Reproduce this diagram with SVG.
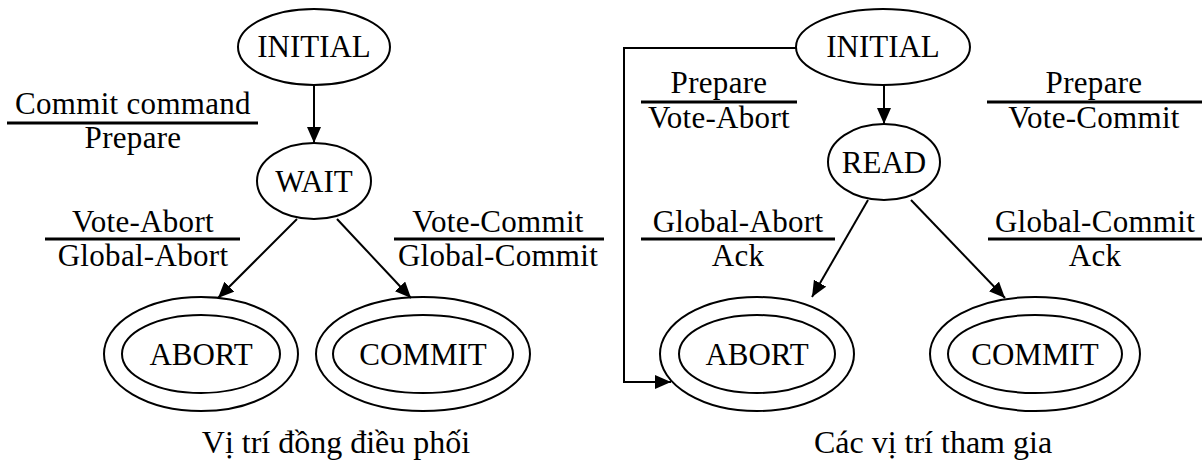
<svg xmlns="http://www.w3.org/2000/svg" width="1202" height="467" viewBox="0 0 1202 467">
  <style>
    text { font-family: "Liberation Serif", "Times New Roman", serif; font-size: 31px; fill: #000; text-anchor: middle; }
    .lbl { letter-spacing: 0.3px; }
    .cap { font-size: 32px; }
    .shape { fill: none; stroke: #000; stroke-width: 2; }
    .edge { fill: none; stroke: #000; stroke-width: 2; }
    .bar { stroke: #000; stroke-width: 3; }
  </style>
  <defs>
    <marker id="arrow" viewBox="0 0 16 14" refX="16" refY="7" markerWidth="16" markerHeight="14" markerUnits="userSpaceOnUse" orient="auto">
      <path d="M0,0 L16,7 L0,14 Z" fill="#000"/>
    </marker>
  </defs>
  <rect width="1202" height="467" fill="#fff"/>

  <!-- Coordinator -->
  <g id="c-initial">
    <ellipse class="shape" cx="314" cy="47" rx="76" ry="38"/>
    <text x="314" y="57">INITIAL</text>
  </g>
  <g id="c-wait">
    <ellipse class="shape" cx="314" cy="181" rx="57" ry="38"/>
    <text x="314" y="192">WAIT</text>
  </g>
  <g id="c-abort">
    <ellipse class="shape" cx="201" cy="354" rx="97" ry="57"/>
    <ellipse class="shape" cx="201" cy="354" rx="79" ry="39"/>
    <text x="201" y="365">ABORT</text>
  </g>
  <g id="c-commit">
    <ellipse class="shape" cx="423" cy="354" rx="107" ry="57"/>
    <ellipse class="shape" cx="423" cy="354" rx="90" ry="39"/>
    <text x="423" y="365">COMMIT</text>
  </g>

  <!-- Participants -->
  <g id="p-initial">
    <ellipse class="shape" cx="883" cy="47" rx="87" ry="38"/>
    <text x="883" y="57">INITIAL</text>
  </g>
  <g id="p-read">
    <ellipse class="shape" cx="884" cy="162" rx="56" ry="38"/>
    <text x="884" y="173">READ</text>
  </g>
  <g id="p-abort">
    <ellipse class="shape" cx="757" cy="354" rx="97" ry="57"/>
    <ellipse class="shape" cx="757" cy="354" rx="78" ry="39"/>
    <text x="757" y="365">ABORT</text>
  </g>
  <g id="p-commit">
    <ellipse class="shape" cx="1035" cy="354" rx="105" ry="57"/>
    <ellipse class="shape" cx="1035" cy="354" rx="87" ry="39"/>
    <text x="1035" y="365">COMMIT</text>
  </g>

  <!-- Transitions -->
  <g id="connectors">
    <line class="edge" x1="314" y1="85" x2="314" y2="143" marker-end="url(#arrow)"/>
    <line class="edge" x1="297" y1="219" x2="218" y2="298" marker-end="url(#arrow)"/>
    <line class="edge" x1="337" y1="219" x2="411" y2="298" marker-end="url(#arrow)"/>
    <line class="edge" x1="884" y1="85" x2="884" y2="124" marker-end="url(#arrow)"/>
    <line class="edge" x1="868" y1="200" x2="812" y2="297" marker-end="url(#arrow)"/>
    <line class="edge" x1="911" y1="200" x2="1005" y2="298" marker-end="url(#arrow)"/>
    <polyline class="edge" points="797,48 624,48 624,382 671,382" marker-end="url(#arrow)"/>
  </g>

  <!-- Transition labels: event over action -->
  <g id="labels" class="lbl">
    <text x="133" y="114">Commit command</text>
    <line class="bar" x1="7" y1="123" x2="258" y2="123"/>
    <text x="133" y="148">Prepare</text>

    <text x="143" y="232">Vote-Abort</text>
    <line class="bar" x1="45" y1="239" x2="240" y2="239"/>
    <text x="143" y="266">Global-Abort</text>

    <text x="498" y="232">Vote-Commit</text>
    <line class="bar" x1="394" y1="239" x2="604" y2="239"/>
    <text x="498" y="266">Global-Commit</text>

    <text x="719" y="93">Prepare</text>
    <line class="bar" x1="641" y1="102" x2="797" y2="102"/>
    <text x="719" y="128">Vote-Abort</text>

    <text x="1094" y="93">Prepare</text>
    <line class="bar" x1="987" y1="102" x2="1202" y2="102"/>
    <text x="1094" y="128">Vote-Commit</text>

    <text x="738" y="232">Global-Abort</text>
    <line class="bar" x1="641" y1="239" x2="835" y2="239"/>
    <text x="738" y="266">Ack</text>

    <text x="1095" y="232">Global-Commit</text>
    <line class="bar" x1="988" y1="239" x2="1202" y2="239"/>
    <text x="1095" y="266">Ack</text>
  </g>

  <text class="cap" x="336" y="453">Vị trí đồng điều phối</text>
  <text class="cap" x="933" y="453">Các vị trí tham gia</text>
</svg>
